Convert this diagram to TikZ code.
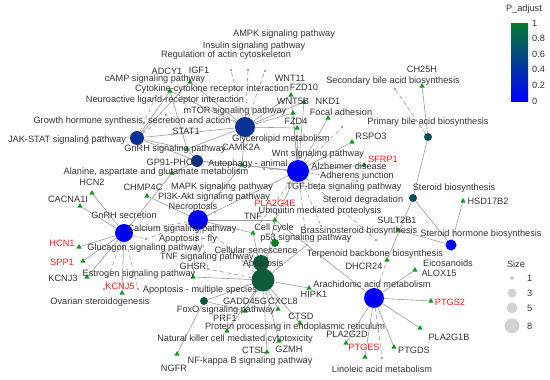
\documentclass[tikz,border=0pt]{standalone}
\usepackage{fontspec}
\setmainfont{Liberation Sans}
\usepackage{xcolor}
\usepackage{tikz}
\usetikzlibrary{shapes.geometric,backgrounds}
\definecolor{hubnavy}{HTML}{0A3296}
\definecolor{hubdeep}{HTML}{0B2F8C}
\definecolor{hubblue}{HTML}{0000F0}
\definecolor{hubteal}{HTML}{0E4E5A}
\definecolor{hubgreen}{HTML}{0E5C3A}
\definecolor{hubleaf}{HTML}{117A24}
\definecolor{genegreen}{HTML}{0E9A1A}
\definecolor{edgegray}{HTML}{9A9A9A}
\definecolor{txt}{HTML}{333333}
\definecolor{txtred}{HTML}{FF1A1A}
\definecolor{scalegreen}{HTML}{067A2C}
\tikzset{
  hub/.style={circle, inner sep=0pt, draw=none},
  gene/.style={regular polygon, regular polygon sides=3, fill=genegreen, inner sep=0pt, minimum size=6pt},
  pdot/.style={circle, fill=gray!75, inner sep=0pt, minimum size=2.8pt},
  lbl/.style={font=\fontsize{9.2}{10}\selectfont, text=txt, inner sep=0pt},
  lblr/.style={lbl, text=txtred},
  ln/.style={draw=edgegray, line width=.6pt},
  lnd/.style={ln, dash pattern=on 4pt off 3pt},
  szdot/.style={circle, fill=gray!35, inner sep=0pt},
}

\begin{document}
\begin{tikzpicture}[x=1pt, y=-1pt]
  \useasboundingbox (0,0) rectangle (550,380);
  % pathway nodes
  \node[hub, fill=hubnavy, minimum size=20pt] (mtor) at (245,127) {};
  \node[hub, fill=hubnavy, minimum size=14pt] (jak) at (137,138) {};
  \node[hub, fill=hubdeep, minimum size=12pt] (gp) at (197,161) {};
  \node[hub, fill=hubblue, minimum size=22pt] (tgf) at (298,171) {};
  \node[hub, fill=hubblue, minimum size=20pt] (calc) at (198,220) {};
  \node[hub, fill=hubblue, minimum size=18pt] (gnrh) at (124,233) {};
  \node[hub, fill=hubteal, minimum size=8pt] (bile) at (428,137) {};
  \node[hub, fill=hubteal, minimum size=8pt] (sterbio) at (413,198) {};
  \node[hub, fill=hubblue, minimum size=11pt] (sterhorm) at (451,245) {};
  \node[hub, fill=hubblue, minimum size=20pt] (arach) at (374,298) {};
  \node[hub, fill=hubgreen, minimum size=23pt] (apopA) at (263,280) {};
  \node[hub, fill=hubgreen, minimum size=16pt] (apopB) at (261,263) {};
  \node[hub, fill=hubleaf, minimum size=8pt] (pff) at (275,243) {};
  \node[hub, fill=hubgreen, minimum size=8pt] (foxo) at (204,301) {};
  % small pathway dots
  \node[pdot] (d1) at (231,70) {};
  \node[pdot] (d2) at (248,70) {};
  \node[pdot] (d3) at (265,71) {};
  \node[pdot] (d4) at (156,96) {};
  \node[pdot] (d5) at (166,115) {};
  \node[pdot] (d6) at (213,108) {};
  \node[pdot] (d7) at (87,136) {};
  \node[pdot] (d8) at (264,169) {};
  \node[pdot] (d9) at (342,127) {};
  \node[pdot] (d10) at (395,89) {};
  \node[pdot] (d11) at (357,181) {};
  \node[pdot] (d12) at (215,212) {};
  \node[pdot] (d13) at (146,239) {};
  \node[pdot] (d14) at (208,269) {};
  \node[pdot] (d15) at (104,289) {};
  \node[pdot] (d16) at (138,289) {};
  \node[pdot] (d17) at (307,245) {};
  \node[pdot] (d18) at (376,240) {};
  \node[pdot] (d19) at (382,358) {};
  \node[pdot] (d20) at (321,226) {};
  % genes
  \node[gene] (adcy1) at (170,91) {};
  \node[gene] (igf1) at (190,82) {};
  \node[gene] (wnt11) at (291,95) {};
  \node[gene] (fzd10) at (304,102) {};
  \node[gene] (wnt5b) at (293,113) {};
  \node[gene] (fzd4) at (297,128) {};
  \node[gene] (nkd1) at (328,118) {};
  \node[gene] (ch25h) at (422,86) {};
  \node[gene] (stat1) at (187,149) {};
  \node[gene] (camk2a) at (242,165) {};
  \node[gene] (gptri) at (172,173) {};
  \node[gene] (chmp4c) at (147,196) {};
  \node[gene] (hcn2) at (92,193) {};
  \node[gene] (cacna1i) at (80,206) {};
  \node[gene] (hcn1) at (79,247) {};
  \node[gene] (spp1) at (83,261) {};
  \node[gene] (kcnj3) at (87,277) {};
  \node[gene] (kcnj5) at (122,293) {};
  \node[gene] (ghsr) at (193,277) {};
  \node[gene] (tnf) at (253,233) {};
  \node[gene] (pla2g4e) at (275,220) {};
  \node[gene] (sfrp1) at (364,165) {};
  \node[gene] (rspo3) at (352,142) {};
  \node[gene] (hsd17b2) at (463,201) {};
  \node[gene] (sult2b1) at (398,230) {};
  \node[gene] (dhcr24) at (387,260) {};
  \node[gene] (alox15) at (415,270) {};
  \node[gene] (ptgs2) at (431,301) {};
  \node[gene] (pla2g1b) at (420,328) {};
  \node[gene] (ptgds) at (394,347) {};
  \node[gene] (ptges) at (365,357) {};
  \node[gene] (pla2g2d) at (346,343) {};
  \node[gene] (hipk1) at (309,288) {};
  \node[gene] (ctsd) at (300,323) {};
  \node[gene] (gzmh) at (279,341) {};
  \node[gene] (ctsl) at (267,352) {};
  \node[gene] (cxcl8) at (278,309) {};
  \node[gene] (gadd45g) at (245,311) {};
  \node[gene] (prf1) at (227,331) {};
  \node[gene] (ngfr) at (177,354) {};
  % connectors
  \begin{scope}[on background layer]
    \draw[ln] (mtor) -- (igf1);
    \draw[ln] (mtor) -- (adcy1);
    \draw[ln] (mtor) -- (wnt11);
    \draw[ln] (mtor) -- (fzd10);
    \draw[ln] (mtor) -- (wnt5b);
    \draw[ln] (mtor) -- (fzd4);
    \draw[ln] (mtor) -- (stat1);
    \draw[ln] (mtor) -- (camk2a);
    \draw[ln] (mtor) -- (jak);
    \draw[lnd] (mtor) -- (d1);
    \draw[lnd] (mtor) -- (d2);
    \draw[lnd] (mtor) -- (d3);
    \draw[lnd] (mtor) -- (d6);
    \draw[ln] (jak) -- (igf1);
    \draw[ln] (jak) -- (adcy1);
    \draw[ln] (jak) -- (stat1);
    \draw[ln] (jak) -- (gp);
    \draw[lnd] (jak) -- (d7);
    \draw[lnd] (jak) -- (d4);
    \draw[lnd] (jak) -- (d5);
    \draw[ln] (gp) -- (stat1);
    \draw[ln] (gp) -- (camk2a);
    \draw[ln] (gp) -- (gptri);
    \draw[ln] (gp) -- (tgf);
    \draw[ln] (adcy1) -- (stat1);
    \draw[ln] (tgf) -- (fzd4);
    \draw[ln] (tgf) -- (wnt5b);
    \draw[ln] (tgf) -- (fzd10);
    \draw[ln] (tgf) -- (wnt11);
    \draw[ln] (tgf) -- (nkd1);
    \draw[ln] (tgf) -- (rspo3);
    \draw[ln] (tgf) -- (sfrp1);
    \draw[ln] (tgf) -- (camk2a);
    \draw[ln] (tgf) -- (pla2g4e);
    \draw[ln] (tgf) -- (calc);
    \draw[lnd] (tgf) -- (d8);
    \draw[lnd] (tgf) -- (d9);
    \draw[lnd] (tgf) -- (d11);
    \draw[lnd] (tgf) -- (d20);
    \draw[lnd] (tgf) -- (d18);
    \draw[lnd] (tgf) -- (d17);
    \draw[lnd] (tgf) -- (tnf);
    \draw[ln] (calc) -- (chmp4c);
    \draw[ln] (calc) -- (camk2a);
    \draw[ln] (calc) -- (tnf);
    \draw[ln] (calc) -- (pla2g4e);
    \draw[ln] (calc) -- (ghsr);
    \draw[lnd] (calc) -- (gnrh);
    \draw[lnd] (calc) -- (d12);
    \draw[lnd] (calc) -- (d13);
    \draw[lnd] (calc) -- (d14);
    \draw[lnd] (calc) -- (apopA);
    \draw[ln] (gnrh) -- (hcn2);
    \draw[ln] (gnrh) -- (cacna1i);
    \draw[ln] (gnrh) -- (hcn1);
    \draw[ln] (gnrh) -- (spp1);
    \draw[ln] (gnrh) -- (kcnj3);
    \draw[ln] (gnrh) -- (kcnj5);
    \draw[ln] (gnrh) -- (gptri);
    \draw[lnd] (gnrh) -- (d13);
    \draw[lnd] (gnrh) -- (d15);
    \draw[lnd] (gnrh) -- (d16);
    \draw[ln] (apopA) -- (tnf);
    \draw[ln] (apopA) -- (ghsr);
    \draw[ln] (apopA) -- (foxo);
    \draw[ln] (apopA) -- (gadd45g);
    \draw[ln] (apopA) -- (cxcl8);
    \draw[ln] (apopA) -- (prf1);
    \draw[ln] (apopA) -- (gzmh);
    \draw[ln] (apopA) -- (ctsl);
    \draw[ln] (apopA) -- (ctsd);
    \draw[ln] (apopA) -- (hipk1);
    \draw[ln] (apopA) -- (pla2g4e);
    \draw[ln] (apopA) -- (d17);
    \draw[lnd] (apopA) -- (d14);
    \draw[ln] (apopB) -- (pff);
    \draw[ln] (foxo) -- (ngfr);
    \draw[ln] (foxo) -- (gadd45g);
    \draw[ln] (arach) -- (pla2g4e);
    \draw[ln] (arach) -- (alox15);
    \draw[ln] (arach) -- (ptgs2);
    \draw[ln] (arach) -- (pla2g1b);
    \draw[ln] (arach) -- (ptgds);
    \draw[ln] (arach) -- (ptges);
    \draw[ln] (arach) -- (pla2g2d);
    \draw[lnd] (arach) -- (d19);
    \draw[lnd] (arach) -- (dhcr24);
    \draw[ln] (sterbio) -- (bile);
    \draw[ln] (sterbio) -- (dhcr24);
    \draw[ln] (sterbio) -- (sterhorm);
    \draw[ln] (sterhorm) -- (hsd17b2);
    \draw[ln] (sterhorm) -- (sult2b1);
    \draw[ln] (bile) -- (ch25h);
    \draw[lnd] (bile) -- (d10);
  \end{scope}
  % labels
  \node[lbl] (tampk) at (284,34) {AMPK signaling pathway};
  \node[lbl] (tins) at (254,46) {Insulin signaling pathway};
  \node[lbl] (tactin) at (226,55) {Regulation of actin cytoskeleton};
  \node[lbl] (tadcy1) at (167,71) {ADCY1};
  \node[lbl] (tigf1) at (199,70) {IGF1};
  \node[lbl] (tcamp) at (155,79) {cAMP signaling pathway};
  \node[lbl] (tcyto) at (212,89) {Cytokine-cytokine receptor interaction};
  \node[lbl] (tneuro) at (165,100) {Neuroactive ligand-receptor interaction};
  \node[lbl] (tmtor) at (235,111) {mTOR signaling pathway};
  \node[lbl] (tgrowth) at (132,121) {Growth hormone synthesis, secretion and action};
  \node[lbl] (tstat1) at (186,131) {STAT1};
  \node[lbl] (tjak) at (67,140) {JAK-STAT signaling pathway};
  \node[lbl] (tgnrhs) at (175,149) {GnRH signaling pathway};
  \node[lbl] (tcamk) at (241,147) {CAMK2A};
  \node[lbl] (tglyc) at (281,139) {Glycerolipid metabolism};
  \node[lbl] (tgp) at (173,162) {GP91-PHOX};
  \node[lbl] (tauto) at (248,164) {Autophagy - animal};
  \node[lbl] (twnt) at (318,154) {Wnt signaling pathway};
  \node[lbl] (tala) at (156,172) {Alanine, aspartate and glutamate metabolism};
  \node[lbl] (thcn2) at (92,182) {HCN2};
  \node[lbl] (tchmp) at (143,187) {CHMP4C};
  \node[lbl] (tmapk) at (222,187) {MAPK signaling pathway};
  \node[lbl] (tcacna) at (68,199) {CACNA1I};
  \node[lbl] (tpi3k) at (214,197) {PI3K-Akt signaling pathway};
  \node[lbl] (tnecro) at (193,207) {Necroptosis};
  \node[lbl] (tgnrh) at (124,215) {GnRH secretion};
  \node[lblr] (tpla4e) at (275,203) {PLA2G4E};
  \node[lbl] (tubiq) at (320,211) {Ubiquitin mediated proteolysis};
  \node[lbl] (ttnf) at (253,216) {TNF};
  \node[lbl] (tcalc) at (182,229) {Calcium signaling pathway};
  \node[lbl] (tcell) at (274,228) {Cell cycle};
  \node[lbl] (tfly) at (188,239) {Apoptosis - fly};
  \node[lbl] (tp53) at (306,238) {p53 signaling pathway};
  \node[lbl] (tsen) at (256,250) {Cellular senescence};
  \node[lbl] (tgluc) at (145,248) {Glucagon signaling pathway};
  \node[lbl] (ttnfs) at (207,257) {TNF signaling pathway};
  \node[lbl] (tghsr) at (193,266) {GHSR};
  \node[lbl] (testr) at (139,274) {Estrogen signaling pathway};
  \node[lbl] (tapop) at (263,264) {Apoptosis};
  \node[lbl] (tapopm) at (200,290) {Apoptosis - multiple species};
  \node[lblr] (thcn1) at (62,243) {HCN1};
  \node[lblr] (tspp1) at (62,262) {SPP1};
  \node[lbl] (tkcnj3) at (63,278) {KCNJ3};
  \node[lblr] (tkcnj5) at (120,286) {KCNJ5};
  \node[lbl] (tovar) at (100,302) {Ovarian steroidogenesis};
  \node[lbl] (tgadd) at (245,301) {GADD45G};
  \node[lbl] (tcxcl8) at (283,301) {CXCL8};
  \node[lbl] (tfoxo) at (226,310) {FoxO signaling pathway};
  \node[lbl] (thipk1) at (314,294) {HIPK1};
  \node[lbl] (tarach) at (372,284) {Arachidonic acid metabolism};
  \node[lbl] (tprf1) at (225,318) {PRF1};
  \node[lbl] (tctsd) at (301,316) {CTSD};
  \node[lbl] (tprot) at (295,327) {Protein processing in endoplasmic reticulum};
  \node[lbl] (tnk) at (235,339) {Natural killer cell mediated cytotoxicity};
  \node[lbl] (tpla2d) at (347,334) {PLA2G2D};
  \node[lbl] (tpla1b) at (449,337) {PLA2G1B};
  \node[lbl] (tctsl) at (254,350) {CTSL};
  \node[lbl] (tgzmh) at (289,349) {GZMH};
  \node[lblr] (tptges) at (364,347) {PTGES};
  \node[lbl] (tptgds) at (414,350) {PTGDS};
  \node[lbl] (tngfr) at (174,368) {NGFR};
  \node[lbl] (tnfkb) at (250,361) {NF-kappa B signaling pathway};
  \node[lbl] (tlino) at (382,369) {Linoleic acid metabolism};
  \node[lblr] (tptgs2) at (450,302) {PTGS2};
  \node[lbl] (teico) at (448,263) {Eicosanoids};
  \node[lbl] (talox) at (439,273) {ALOX15};
  \node[lbl] (tdhcr) at (364,266) {DHCR24};
  \node[lbl] (tterp) at (375,254) {Terpenoid backbone biosynthesis};
  \node[lbl] (tbras) at (359,231) {Brassinosteroid biosynthesis};
  \node[lbl] (tsult) at (397,220) {SULT2B1};
  \node[lbl] (tsthorm) at (481,234) {Steroid hormone biosynthesis};
  \node[lbl] (tstdeg) at (363,200) {Steroid degradation};
  \node[lbl] (thsd) at (488,201) {HSD17B2};
  \node[lbl] (tstbio) at (454,188) {Steroid biosynthesis};
  \node[lbl] (ttgf) at (344,187) {TGF-beta signaling pathway};
  \node[lbl] (tadh) at (357,176) {Adherens junction};
  \node[lbl] (talz) at (349,166) {Alzheimer disease};
  \node[lblr] (tsfrp1) at (383,159) {SFRP1};
  \node[lbl] (trspo3) at (371,136) {RSPO3};
  \node[lbl] (tpbile) at (428,122) {Primary bile acid biosynthesis};
  \node[lbl] (tfocal) at (341,112) {Focal adhesion};
  \node[lbl] (tnkd1) at (328,101) {NKD1};
  \node[lbl] (tfzd4) at (296,121) {FZD4};
  \node[lbl] (twnt5b) at (293,101) {WNT5B};
  \node[lbl] (twnt11) at (290,78) {WNT11};
  \node[lbl] (tfzd10) at (304,87) {FZD10};
  \node[lbl] (tsbile) at (393,81) {Secondary bile acid biosynthesis};
  \node[lbl] (tch25h) at (422,69) {CH25H};
  % legend
  \node[lbl] (padj) at (524,9) {P\_adjust};
  \shade[top color=scalegreen, bottom color=blue] (511,23) rectangle (528,101);
  \node[lbl, anchor=west] (s10) at (532,23) {1};
  \node[lbl, anchor=west] (s08) at (532,38.6) {0.8};
  \node[lbl, anchor=west] (s06) at (532,54.2) {0.6};
  \node[lbl, anchor=west] (s04) at (532,69.8) {0.4};
  \node[lbl, anchor=west] (s02) at (532,85.4) {0.2};
  \node[lbl, anchor=west] (s00) at (532,101) {0};
  \node[lbl] (size) at (516,264) {Size};
  \node[szdot, minimum size=4pt] (z1) at (512,278) {};
  \node[szdot, minimum size=9pt] (z3) at (512,293) {};
  \node[szdot, minimum size=11pt] (z5) at (512,308) {};
  \node[szdot, minimum size=15pt] (z8) at (512,326) {};
  \node[lbl, anchor=west] (tz1) at (527,278) {1};
  \node[lbl, anchor=west] (tz3) at (527,293) {3};
  \node[lbl, anchor=west] (tz5) at (527,308) {5};
  \node[lbl, anchor=west] (tz8) at (527,326) {8};
\end{tikzpicture}
\end{document}
